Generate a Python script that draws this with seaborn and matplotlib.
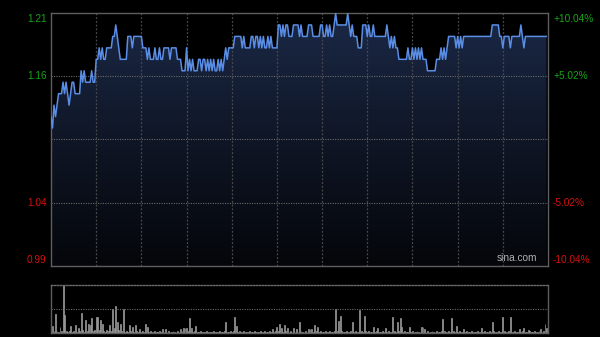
import numpy as np
import pandas as pd
import matplotlib
matplotlib.use("Agg")
import matplotlib.pyplot as plt
import seaborn as sns
from matplotlib.colors import LinearSegmentedColormap

# ---------------- data ----------------
prev_close = 1.10
pct_levels = [10.04, 5.02, -5.02, -10.04]
left_labels = ["1.21", "1.16", "1.04", "0.99"]
right_labels = ["+10.04%", "+5.02%", "-5.02%", "-10.04%"]
n_minutes = 330
vgrid_minutes = [30, 60, 90, 120, 150, 180, 210, 240, 270, 300]

price = [
    1.12, 1.11, 1.13, 1.12, 1.13, 1.14, 1.14, 1.14, 1.15, 1.14, 1.15, 1.14, 1.13, 1.14, 1.15,
    1.15, 1.14, 1.14, 1.14, 1.14, 1.16, 1.15, 1.16, 1.15, 1.15, 1.15, 1.15, 1.16, 1.15, 1.15,
    1.17, 1.17, 1.18, 1.17, 1.18, 1.17, 1.17, 1.18, 1.18, 1.18, 1.18, 1.19, 1.19, 1.20, 1.19,
    1.18, 1.17, 1.17, 1.17, 1.17, 1.17, 1.19, 1.19, 1.19, 1.18, 1.19, 1.19, 1.19, 1.19, 1.19,
    1.19, 1.18, 1.18, 1.18, 1.17, 1.18, 1.17, 1.17, 1.17, 1.18, 1.17, 1.17, 1.18, 1.17, 1.17,
    1.18, 1.18, 1.18, 1.18, 1.17, 1.18, 1.18, 1.18, 1.18, 1.17, 1.17, 1.17, 1.16, 1.16, 1.16,
    1.18, 1.16, 1.17, 1.16, 1.17, 1.16, 1.16, 1.16, 1.17, 1.17, 1.16, 1.17, 1.17, 1.16, 1.17,
    1.16, 1.17, 1.16, 1.17, 1.16, 1.16, 1.17, 1.16, 1.17, 1.16, 1.17, 1.18, 1.17, 1.18, 1.18,
    1.18, 1.18, 1.19, 1.19, 1.19, 1.19, 1.19, 1.18, 1.19, 1.18, 1.18, 1.18, 1.18, 1.19, 1.19,
    1.18, 1.19, 1.19, 1.18, 1.19, 1.18, 1.19, 1.18, 1.18, 1.19, 1.18, 1.19, 1.18, 1.18, 1.18,
    1.18, 1.20, 1.20, 1.19, 1.20, 1.19, 1.20, 1.20, 1.19, 1.19, 1.19, 1.20, 1.20, 1.20, 1.20,
    1.19, 1.20, 1.19, 1.19, 1.19, 1.19, 1.20, 1.20, 1.20, 1.19, 1.19, 1.19, 1.19, 1.19, 1.20,
    1.20, 1.19, 1.19, 1.20, 1.19, 1.20, 1.19, 1.19, 1.20, 1.21, 1.20, 1.20, 1.20, 1.20, 1.20,
    1.20, 1.20, 1.21, 1.20, 1.19, 1.20, 1.19, 1.19, 1.19, 1.18, 1.18, 1.18, 1.20, 1.20, 1.20,
    1.19, 1.20, 1.19, 1.19, 1.20, 1.19, 1.19, 1.19, 1.19, 1.19, 1.19, 1.19, 1.19, 1.20, 1.19,
    1.18, 1.19, 1.18, 1.19, 1.18, 1.18, 1.17, 1.17, 1.17, 1.17, 1.17, 1.17, 1.18, 1.17, 1.17,
    1.18, 1.17, 1.18, 1.17, 1.18, 1.17, 1.18, 1.17, 1.17, 1.17, 1.16, 1.16, 1.16, 1.16, 1.16,
    1.16, 1.17, 1.17, 1.17, 1.18, 1.17, 1.18, 1.17, 1.18, 1.19, 1.19, 1.19, 1.19, 1.19, 1.18,
    1.19, 1.18, 1.19, 1.18, 1.19, 1.19, 1.19, 1.19, 1.19, 1.19, 1.19, 1.19, 1.19, 1.19, 1.19,
    1.19, 1.19, 1.19, 1.19, 1.19, 1.19, 1.19, 1.19, 1.20, 1.20, 1.20, 1.20, 1.20, 1.19, 1.19,
    1.18, 1.19, 1.19, 1.19, 1.19, 1.18, 1.19, 1.19, 1.19, 1.19, 1.19, 1.19, 1.20, 1.19, 1.18,
    1.19, 1.19, 1.19, 1.19, 1.19, 1.19, 1.19, 1.19, 1.19, 1.19, 1.19, 1.19, 1.19, 1.19, 1.19,
]

volume = [
    3, 7, 2, 19, 2, 1, 6, 2, 48, 18, 2, 1, 2, 7, 1, 2, 8, 1, 5, 2, 20, 3, 1, 13, 2, 9, 8, 15, 2, 3,
    16, 16, 3, 13, 9, 2, 1, 3, 2, 8, 2, 24, 5, 27, 11, 3, 9, 2, 24, 1, 2, 1, 8, 2, 6, 1, 8, 2, 1, 4,
    1, 2, 1, 9, 6, 1, 2, 1, 1, 2, 1, 1, 2, 1, 4, 1, 4, 1, 2, 1, 1, 2, 1, 1, 2, 1, 4, 2, 5, 5,
    5, 2, 15, 5, 1, 2, 7, 1, 1, 2, 1, 1, 1, 2, 1, 1, 1, 1, 2, 1, 1, 1, 2, 1, 1, 2, 11, 1, 1, 2,
    1, 2, 16, 7, 1, 2, 1, 1, 2, 1, 1, 1, 2, 1, 1, 2, 1, 1, 1, 2, 1, 1, 2, 1, 1, 2, 1, 4, 1, 2,
    6, 2, 9, 5, 1, 8, 2, 5, 1, 2, 1, 5, 1, 4, 1, 11, 2, 1, 1, 2, 1, 4, 4, 4, 1, 8, 2, 6, 1, 2,
    1, 1, 2, 1, 1, 2, 1, 1, 2, 24, 2, 12, 17, 2, 1, 1, 2, 1, 1, 2, 11, 1, 2, 1, 1, 23, 2, 1, 17, 2,
    1, 2, 1, 1, 6, 1, 2, 5, 1, 1, 2, 1, 5, 1, 2, 1, 1, 16, 2, 1, 11, 2, 15, 6, 1, 2, 1, 1, 6, 1,
    2, 1, 1, 2, 1, 1, 6, 6, 4, 1, 2, 1, 1, 2, 1, 1, 2, 1, 1, 2, 14, 2, 1, 1, 2, 1, 15, 2, 1, 7,
    1, 2, 1, 1, 4, 1, 2, 1, 1, 2, 1, 1, 1, 2, 1, 1, 5, 1, 2, 1, 1, 2, 1, 11, 2, 1, 1, 2, 1, 1,
    16, 2, 1, 1, 2, 16, 1, 1, 2, 1, 1, 4, 1, 2, 5, 1, 1, 3, 2, 1, 1, 2, 1, 1, 2, 4, 1, 2, 9, 5,
]

minutes = np.arange(len(price))
df = pd.DataFrame({"minute": minutes, "price": price, "volume": volume})

# ---------------- style ----------------
sns.set_theme(style="dark", rc={"axes.facecolor": "black", "figure.facecolor": "black"})
plt.rcParams["font.family"] = ["Liberation Sans", "DejaVu Sans"]

GREEN = "#16a516"
RED = "#d41010"
SPINE = "#5e5e5e"

fig = plt.figure(figsize=(6.0, 3.37), dpi=100)
fig.patch.set_facecolor("black")
ax = fig.add_axes([51 / 600, 1 - 266 / 337, 497 / 600, 253 / 337])
axv = fig.add_axes([51 / 600, 1 - 332.5 / 337, 497 / 600, 47.5 / 337])

ymin = prev_close * (1 - pct_levels[0] / 100)
ymax = prev_close * (1 + pct_levels[0] / 100)

# ---------------- price panel ----------------
ax.set_facecolor("black")
ax.set_xlim(0, n_minutes)
ax.set_ylim(ymin, ymax)

# gradient fill below line
poly = ax.fill_between(df["minute"], df["price"], ymin, color="none", lw=0)
cmap = LinearSegmentedColormap.from_list("g", ["#04060a", "#0f1626", "#1b2947"])
grad = np.linspace(0, 1, 256).reshape(-1, 1)
im = ax.imshow(grad, extent=[0, n_minutes, ymin, max(price)], origin="lower",
               aspect="auto", cmap=cmap, zorder=1)
path = poly.get_paths()[0]
im.set_clip_path(path, transform=ax.transData)

# grid
for m in vgrid_minutes:
    ax.axvline(m, color="#4a4a4a", lw=0.9, ls=(0, (1.5, 1.5)), zorder=2)
for p in [5.02, 0.0, -5.02]:
    ax.axhline(prev_close * (1 + p / 100), color="#6a6a6a", lw=0.8, ls=(0, (1, 1.2)), zorder=2)

sns.lineplot(data=df, x="minute", y="price", ax=ax, color="#5a8ee6", lw=1.1, zorder=4)
ax.set_xlabel("")
ax.set_ylabel("")
ax.set_xticks([])
ax.set_yticks([])
ax.grid(False)
for s in ax.spines.values():
    s.set_visible(True)
    s.set_color(SPINE)
    s.set_linewidth(1.0)

for i, (pct, ll, rl) in enumerate(zip(pct_levels, left_labels, right_labels)):
    yv = prev_close * (1 + pct / 100)
    col = GREEN if pct > 0 else RED
    va = "top" if i == 0 else ("bottom" if i == len(pct_levels) - 1 else "center")
    off = -0.004 * (ymax - ymin) if va == "top" else (0.004 * (ymax - ymin) if va == "bottom" else 0)
    ax.text(-0.009, yv + off, ll, transform=ax.get_yaxis_transform(), ha="right", va=va,
            color=col, fontsize=7.3)
    ax.text(1.010, yv + off, rl, transform=ax.get_yaxis_transform(), ha="left", va=va,
            color=col, fontsize=7.3)

ax.text(0.979, 0.012, "sina.com", transform=ax.transAxes, ha="right", va="bottom",
        color="#b0b0b0", fontsize=7.3, zorder=5)

# ---------------- volume panel ----------------
axv.set_facecolor("black")
sns.barplot(data=df, x="minute", y="volume", ax=axv, native_scale=True, color="#9a9a9a",
            width=0.6, linewidth=0.5, edgecolor="#9a9a9a", errorbar=None, saturation=1)
axv.set_xlim(0, n_minutes)
axv.set_ylim(0, 48)
axv.axhline(24, color="#6a6a6a", lw=0.8, ls=(0, (1, 1.2)))
axv.set_xlabel("")
axv.set_ylabel("")
axv.set_xticks([])
axv.set_yticks([])
axv.grid(False)
for k, s in axv.spines.items():
    s.set_visible(True)
    s.set_color(SPINE)
    s.set_linewidth(1.0)
axv.spines["top"].set_linestyle((0, (1, 1.2)))
axv.spines["top"].set_color("#6a6a6a")

fig.savefig("out.png", dpi=100, facecolor="black")
